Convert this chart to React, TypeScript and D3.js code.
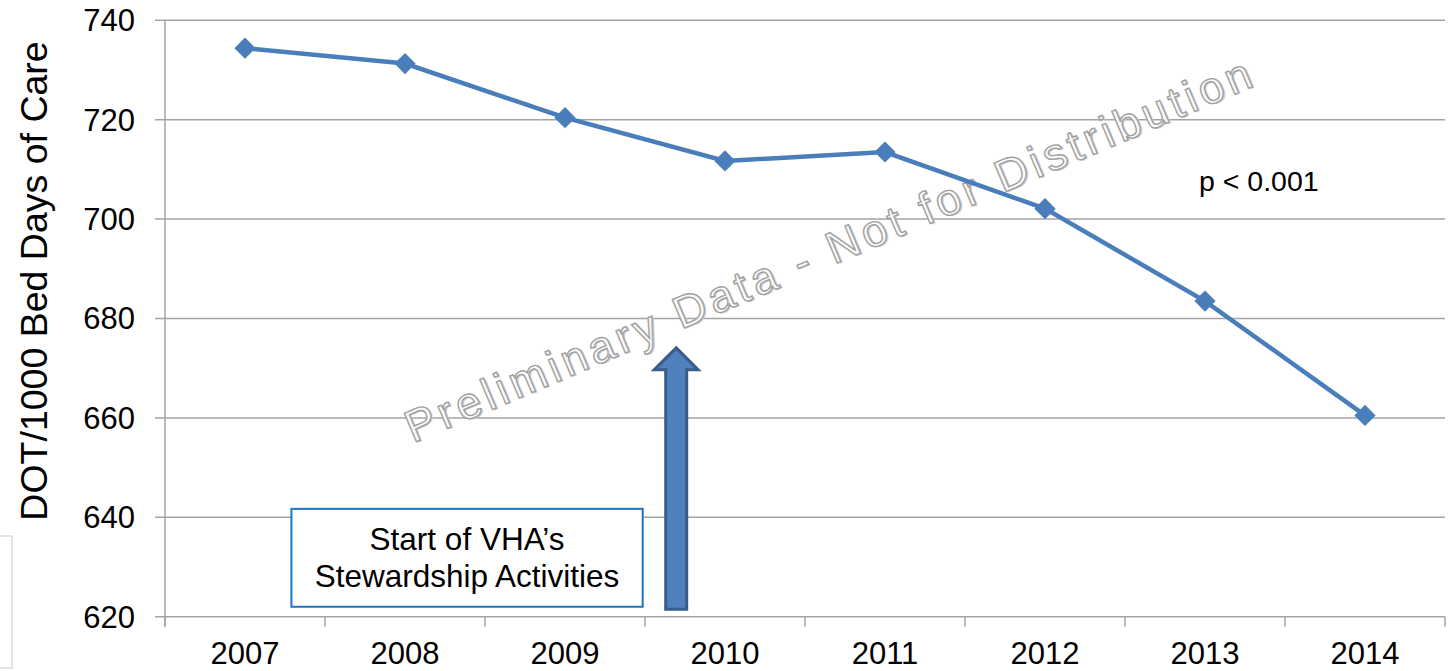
import { useEffect } from "react";
import * as d3 from "d3";

// values
const years = ["2007", "2008", "2009", "2010", "2011", "2012", "2013", "2014"];
const dotValues = [734.4, 731.3, 720.4, 711.7, 713.5, 702.1, 683.5, 660.5];
const yTicks = [620, 640, 660, 680, 700, 720, 740];

const yLabel = "DOT/1000 Bed Days of Care";
const pValueText = "p < 0.001";
const boxLines = ["Start of VHA\u2019s", "Stewardship Activities"];
const watermark = "Preliminary Data - Not for Distribution";

const W = 1451;
const H = 671;
const margin = { top: 20.3, right: 6, bottom: 54.3, left: 165 };
const font = "'Liberation Sans', Arial, Helvetica, sans-serif";
const blue = "#4a7ebb";
const grid = "#a3a3a3";

export default function App() {
  useEffect(() => {
    document.body.style.margin = "0";
  }, []);

  const innerW = W - margin.left - margin.right;
  const innerH = H - margin.top - margin.bottom;

  const x = d3.scaleBand().domain(years).range([0, innerW]);
  const y = d3.scaleLinear().domain([620, 740]).range([innerH, 0]);
  const bw = x.bandwidth();
  const cx = (yr: string) => (x(yr) ?? 0) + bw / 2;

  const line = d3
    .line<number>()
    .x((_, i) => cx(years[i]))
    .y((d) => y(d));

  const diamond = d3.symbol(d3.symbolSquare, 225)() || "";

  // annotation positions in data units
  const arrowX = (x("2010") ?? 0) + bw * 0.195;
  const arrowTop = y(674.1);
  const arrowBottom = y(621.5);
  const headW = 22;
  const shaftW = 10.5;
  const headH = 22;
  const arrowPts = [
    [arrowX, arrowTop],
    [arrowX + headW, arrowTop + headH],
    [arrowX + shaftW, arrowTop + headH],
    [arrowX + shaftW, arrowBottom],
    [arrowX - shaftW, arrowBottom],
    [arrowX - shaftW, arrowTop + headH],
    [arrowX - headW, arrowTop + headH],
  ];

  const boxL = (x("2007") ?? 0) + bw * 0.79;
  const boxR = (x("2010") ?? 0) - 2.3;
  const boxT = y(641.7);
  const boxB = y(622.0);
  const boxCx = (boxL + boxR) / 2;

  return (
    <svg
      width={W}
      height={H}
      style={{ position: "absolute", left: 0, top: 0, background: "#fff" }}
      fontFamily={font}
    >
      {/* stray clipped box at the far left */}
      <rect x={-2} y={536} width={14} height={132} fill="#fff" stroke="#c8c8c8" strokeWidth={1} />

      <text
        transform={`translate(47,281) rotate(-90)`}
        textAnchor="middle"
        fontSize={37.5}
        fill="#000"
      >
        {yLabel}
      </text>

      <g transform={`translate(${margin.left},${margin.top})`}>
        {/* gridlines + y ticks */}
        {yTicks.map((t) => (
          <g key={t}>
            <line x1={-10} x2={innerW} y1={y(t)} y2={y(t)} stroke={grid} strokeWidth={1.5} />
            <text x={-30} y={y(t)} dy="0.35em" textAnchor="end" fontSize={31} fill="#000">
              {t}
            </text>
          </g>
        ))}
        <line x1={0} x2={0} y1={0} y2={innerH + 10} stroke={grid} strokeWidth={1.5} />

        {/* x ticks */}
        {d3.range(years.length + 1).map((i) => (
          <line key={i} x1={i * bw} x2={i * bw} y1={innerH} y2={innerH + 10} stroke={grid} strokeWidth={1.5} />
        ))}
        {years.map((yr) => (
          <text key={yr} x={cx(yr)} y={innerH + 47} textAnchor="middle" fontSize={31} fill="#000">
            {yr}
          </text>
        ))}

        {/* watermark */}
        <g transform={`translate(${834 - margin.left},${264.5 - margin.top}) rotate(-23)`}>
          <text
            x={1.5}
            y={1.5}
            textAnchor="middle"
            fontSize={45}
            textLength={915}
            lengthAdjust="spacing"
            fill="#d0d0d0"
          >
            {watermark}
          </text>
          <text
            textAnchor="middle"
            fontSize={45}
            textLength={915}
            lengthAdjust="spacing"
            fill="#fbfbfb"
            stroke="#a0a0a0"
            strokeWidth={1.4}
          >
            {watermark}
          </text>
        </g>

        {/* annotation box */}
        <rect
          x={boxL}
          y={boxT}
          width={boxR - boxL}
          height={boxB - boxT}
          fill="#fff"
          stroke="#1f74c2"
          strokeWidth={2}
        />
        {boxLines.map((t, i) => (
          <text key={t} x={boxCx} y={boxT + 41 + i * 37} textAnchor="middle" fontSize={31.5} fill="#000">
            {t}
          </text>
        ))}

        {/* block arrow */}
        <polygon
          points={arrowPts.map((p) => p.join(",")).join(" ")}
          fill="#4f81bd"
          stroke="#385d8a"
          strokeWidth={3}
          strokeLinejoin="miter"
        />

        {/* series */}
        <path d={line(dotValues) || ""} fill="none" stroke={blue} strokeWidth={4.5} />
        {dotValues.map((v, i) => (
          <path
            key={years[i]}
            d={diamond}
            transform={`translate(${cx(years[i])},${y(v)}) rotate(45)`}
            fill={blue}
          />
        ))}

        <text x={(x("2013") ?? 0) + 74} y={y(705.65)} fontSize={28.5} fill="#000">
          {pValueText}
        </text>
      </g>
    </svg>
  );
}
